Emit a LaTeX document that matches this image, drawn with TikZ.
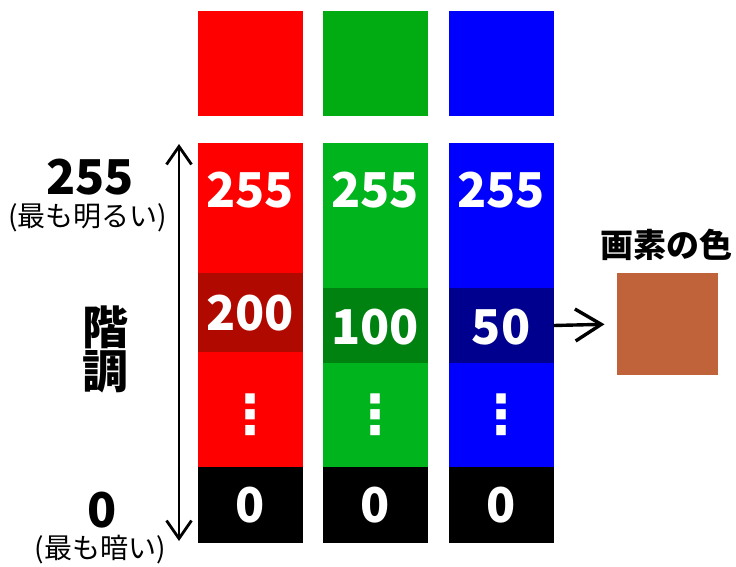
\documentclass[tikz,border=0pt]{standalone}
\usepackage{fontspec}
\setmainfont{Noto Sans CJK JP}
\newfontfamily\symfont{DejaVu Sans}
\usetikzlibrary{arrows.meta, positioning}

\definecolor{chred}{HTML}{FF0000}
\definecolor{chredd}{HTML}{B00A00}
\definecolor{chgreen}{HTML}{00AC12}
\definecolor{chgreenc}{HTML}{00B41E}
\definecolor{chgreend}{HTML}{008210}
\definecolor{chblue}{HTML}{0000FF}
\definecolor{chblued}{HTML}{00008E}
\definecolor{pixcol}{HTML}{C0623A}

\begin{document}
\begin{tikzpicture}[x=1pt,y=-1pt,>={Straight Barb[length=18pt,width=25pt]},
	swatch/.style={minimum width=105pt, minimum height=105pt, inner sep=0pt, outer sep=0pt},
	cell/.style={minimum width=105pt, inner sep=0pt, outer sep=0pt},
	num/.style={text=white, font=\fontsize{48}{48}\selectfont\bfseries},
	dots/.style={text=white, font=\symfont\fontsize{54}{54}\selectfont\bfseries},
	side/.style={font=\fontsize{28}{30}\selectfont}]
	
	\useasboundingbox (0,0) rectangle (736,566);
	
	% colour swatches
	\node (sr) [swatch, fill=chred] at (250,63) {};
	\node (sg) [swatch, fill=chgreen] at (375,63) {};
	\node (sb) [swatch, fill=chblue] at (501,63) {};
	
	% red channel
	\node (r1) [cell, fill=chred, minimum height=130pt, anchor=north] at (250,143) {};
	\node (r2) [cell, fill=chredd, minimum height=79pt, below=0pt of r1] {};
	\node (r3) [cell, fill=chred, minimum height=115pt, below=0pt of r2] {};
	\node (r4) [cell, fill=black, minimum height=76pt, below=0pt of r3] {};
	
	% green channel
	\node (g1) [cell, fill=chgreenc, minimum height=145pt, anchor=north] at (375,143) {};
	\node (g2) [cell, fill=chgreend, minimum height=75pt, below=0pt of g1] {};
	\node (g3) [cell, fill=chgreenc, minimum height=104pt, below=0pt of g2] {};
	\node (g4) [cell, fill=black, minimum height=76pt, below=0pt of g3] {};
	
	% blue channel
	\node (b1) [cell, fill=chblue, minimum height=145pt, anchor=north] at (501,143) {};
	\node (b2) [cell, fill=chblued, minimum height=75pt, below=0pt of b1] {};
	\node (b3) [cell, fill=chblue, minimum height=104pt, below=0pt of b2] {};
	\node (b4) [cell, fill=black, minimum height=76pt, below=0pt of b3] {};
	
	% values
	\node (rtop) [num] at (250,190) {255};
	\node (gtop) [num] at (375,190) {255};
	\node (btop) [num] at (501,190) {255};
	\node (rval) [num] at (250,313) {200};
	\node (gval) [num] at (375,327) {100};
	\node (bval) [num] at (501,327) {50};
	\node (rdots) [dots] at (250,415) {⋮};
	\node (gdots) [dots] at (375,415) {⋮};
	\node (bdots) [dots] at (501,415) {⋮};
	\node (rzero) [num] at (250,505) {0};
	\node (gzero) [num] at (375,505) {0};
	\node (bzero) [num] at (501,505) {0};
	
	% scale on the left
	\coordinate (top) at (179,144);
	\coordinate (bot) at (179,541);
	\draw [<->, line width=2.8pt] (top) -- (bot);
	\node (hi) [font=\fontsize{48}{48}\selectfont\bfseries] at (90,177) {255};
	\node (hitxt) [side] at (88,218) {(最も明るい)};
	\node (kaicho) [align=center, font=\fontsize{46}{44}\selectfont\bfseries] at (105,349) {階\\調};
	\node (lo) [font=\fontsize{48}{48}\selectfont\bfseries] at (102,510) {0};
	\node (lotxt) [side] at (100,550) {(最も暗い)};
	
	% resulting pixel
	\node (pix) [swatch, fill=pixcol, minimum width=101pt, minimum height=102pt] at (667,324) {};
	\node (pixtxt) [font=\fontsize{33}{33}\selectfont\bfseries] at (666,245) {画素の色};
	\draw [-{Straight Barb[length=26pt,width=32pt]}, line width=3.4pt, shorten >=12pt] (b2.east) -- (pix.west);
	
\end{tikzpicture}
\end{document}
